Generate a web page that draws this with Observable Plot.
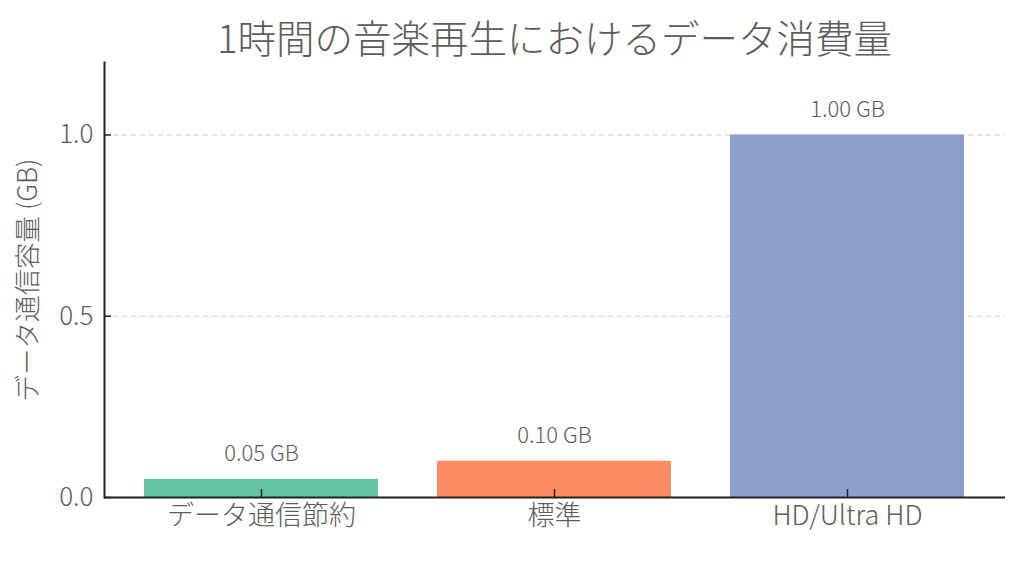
<!DOCTYPE html>
<html>
<head>
<meta charset="utf-8">
<script src="https://cdn.jsdelivr.net/npm/d3@7"></script>
<script src="https://cdn.jsdelivr.net/npm/@observablehq/plot@0.6"></script>
<style>
  html, body { margin: 0; padding: 0; background: #fff; }
  body { width: 1024px; height: 565px; overflow: hidden; font-family: "Noto Sans CJK JP Light", "Noto Sans CJK JP", "Noto Sans", sans-serif; font-weight: 300; }
  #title { height: 60px; box-sizing: border-box; padding-top: 6px; padding-left: 85px; text-align: center; font-size: 38.5px; line-height: 60px; color: #5c5c5c; font-weight: 300; white-space: nowrap; }
</style>
</head>
<body>
<div id="title">1時間の音楽再生におけるデータ消費量</div>
<div id="chart"></div>
<script>
const categories = ["データ通信節約", "標準", "HD/Ultra HD"];
const values = [0.05, 0.10, 1.00];
const colors = ["#66c2a5", "#fc8d62", "#8da0cb"];
const yTicks = [0, 0.5, 1.0];
const yLabel = "データ通信容量 (GB)";

const data = categories.map((c, i) => ({category: c, value: values[i], color: colors[i]}));
const ff = '"Noto Sans CJK JP Light", "Noto Sans CJK JP", "Noto Sans", sans-serif';
const textColor = "#5c5c5c";

const chart = Plot.plot({
  width: 1024,
  height: 505,
  marginTop: 2,
  marginBottom: 68,
  marginLeft: 104,
  marginRight: 19,
  style: {fontFamily: ff, fontWeight: 300, color: textColor, background: "#fff"},
  x: {domain: categories, paddingInner: 0.2, paddingOuter: 0.136, label: null},
  y: {domain: [0, 1.2], label: null},
  marks: [
    Plot.gridY(yTicks.filter(d => d > 0), {stroke: "#ccc", strokeOpacity: 1, strokeDasharray: "5,4", strokeWidth: 1}),
    Plot.barY(data, {x: "category", y: "value", fill: "color"}),
    Plot.text(data, {x: "category", y: "value", text: d => d.value.toFixed(2) + " GB", dy: -25, fontSize: 22, fill: textColor, fontWeight: 300}),
    Plot.axisY({ticks: yTicks, tickFormat: d3.format(".1f"), tickSize: 7, dx: 7, tickPadding: 11, fontSize: 26, stroke: "#222", strokeWidth: 1.5, fill: textColor, label: null}),
    Plot.axisX({tickSize: 8, dy: -8, tickPadding: 8, fontSize: 27, stroke: "#222", strokeWidth: 1.5, fill: textColor, label: null}),
    Plot.text([yLabel], {frameAnchor: "left", textAnchor: "middle", rotate: -90, dx: -76, fontSize: 26.5, fill: textColor, fontWeight: 300}),
    Plot.ruleY([0], {stroke: "#222", strokeWidth: 2}),
    Plot.frame({anchor: "left", stroke: "#222", strokeWidth: 2})
  ]
});
document.getElementById("chart").appendChild(chart);
</script>
</body>
</html>
